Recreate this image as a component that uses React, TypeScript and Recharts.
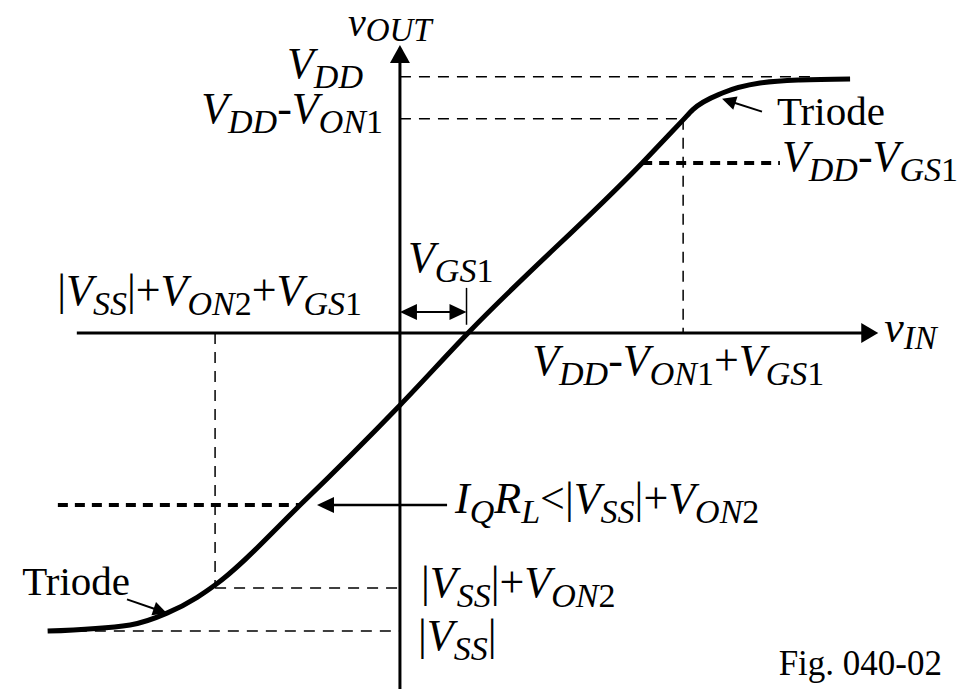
import React from "react";
import {
  ComposedChart,
  Line,
  XAxis,
  YAxis,
  ReferenceLine,
  ReferenceDot,
} from "recharts";

// transfer curve, in volt-like units with (0,0) at the axis crossing
const vinPoints = [-6.88, -5.27, -4.55, -3.96, -3.61, -1.95, 0, 1.33, 4.73, 5.53, 5.72, 6.31, 7.03, 7.81, 8.79];
const voutPoints = [-5.82, -5.7, -5.47, -5.16, -4.92, -3.36, -1.41, 0, 3.32, 4.16, 4.36, 4.69, 4.88, 4.94, 4.96];

// levels marked on the vOUT axis
const VDD = 5.0;
const VDD_VON1 = 4.18;
const VDD_VGS1 = 3.32;
const IQRL = -3.36;
const VSS_VON2 = -4.98;
const VSS = -5.82;

// points marked on the vIN axis
const VGS1 = 1.3;
const KNEE_HI = 5.53;
const KNEE_LO = -3.61;

const X_DOMAIN = [-7.81, 11.21];
const Y_DOMAIN = [-6.97, 6.5];

const curveData = vinPoints.map((vin, i) => ({ vin, vout: voutPoints[i] }));

const FONT = '"Liberation Serif", "Times New Roman", Times, serif';

type Run = { t: string; sub: boolean; it: boolean };

// "V_{DD}-V_{ON1}" -> runs of main / subscript text, letters italic
function parse(src: string, italic: boolean): Run[] {
  const runs: Run[] = [];
  const push = (ch: string, sub: boolean) => {
    const it = italic && /[A-Za-z]/.test(ch);
    const last = runs[runs.length - 1];
    if (last && last.sub === sub && last.it === it) last.t += ch;
    else runs.push({ t: ch, sub, it });
  };
  let i = 0;
  while (i < src.length) {
    if (src[i] === "_" && src[i + 1] === "{") {
      const end = src.indexOf("}", i);
      for (const ch of src.slice(i + 2, end)) push(ch, true);
      i = end + 1;
    } else {
      push(src[i], false);
      i++;
    }
  }
  return runs;
}

function MathText({ x, y, tex, anchor = "start", size = 44, subSize = 34, shift = 10, italic = true }: any) {
  const runs = parse(tex, italic);
  let cur = 0;
  return (
    <text x={x} y={y} textAnchor={anchor} fontFamily={FONT} fill="#000">
      {runs.map((r, k) => {
        const target = r.sub ? shift : 0;
        const dy = target - cur;
        cur = target;
        return (
          <tspan key={k} dy={dy} fontSize={r.sub ? subSize : size} fontStyle={r.it ? "italic" : "normal"}>
            {r.t}
          </tspan>
        );
      })}
    </text>
  );
}

function arrow(head: number, half: number, both = false) {
  return (p: any) => {
    const { x1, y1, x2, y2 } = p;
    const len = Math.hypot(x2 - x1, y2 - y1) || 1;
    const ux = (x2 - x1) / len;
    const uy = (y2 - y1) / len;
    const tri = (tx: number, ty: number, sx: number, sy: number) => {
      const bx = tx - sx * head;
      const by = ty - sy * head;
      return `${tx},${ty} ${bx - sy * half},${by + sx * half} ${bx + sy * half},${by - sx * half}`;
    };
    const cut = head * 0.8;
    return (
      <g>
        <line
          x1={both ? x1 + ux * cut : x1}
          y1={both ? y1 + uy * cut : y1}
          x2={x2 - ux * cut}
          y2={y2 - uy * cut}
          stroke="#000"
          strokeWidth={p.strokeWidth}
        />
        <polygon points={tri(x2, y2, ux, uy)} fill="#000" />
        {both && <polygon points={tri(x1, y1, -ux, -uy)} fill="#000" />}
      </g>
    );
  };
}

const tag = (key: string, x: number, y: number, dx: number, dy: number, tex: string, opts: any = {}) => (
  <ReferenceDot
    key={key}
    x={x}
    y={y}
    r={0}
    ifOverflow="visible"
    isFront
    shape={(p: any) => <MathText x={p.cx + dx} y={p.cy + dy} tex={tex} {...opts} />}
  />
);

const thin = { stroke: "#000", strokeWidth: 1.5, strokeDasharray: "11 8", ifOverflow: "visible" as const };
const thick = { stroke: "#000", strokeWidth: 4, strokeDasharray: "10 7", ifOverflow: "visible" as const };

export default function App() {
  return (
    <div style={{ position: "absolute", left: 0, top: 0, width: 974, height: 690, background: "#fff" }}>
      <ComposedChart width={974} height={690} data={curveData} margin={{ top: 0, right: 0, bottom: 0, left: 0 }}>
        <XAxis dataKey="vin" type="number" domain={X_DOMAIN} hide allowDataOverflow />
        <YAxis type="number" domain={Y_DOMAIN} hide allowDataOverflow />

        {/* guide lines */}
        <ReferenceLine segment={[{ x: 0, y: VDD }, { x: 8.14, y: VDD }]} {...thin} />
        <ReferenceLine segment={[{ x: 0, y: VDD_VON1 }, { x: KNEE_HI, y: VDD_VON1 }]} {...thin} />
        <ReferenceLine segment={[{ x: KNEE_HI, y: VDD_VON1 }, { x: KNEE_HI, y: 0 }]} {...thin} />
        <ReferenceLine segment={[{ x: KNEE_LO, y: 0 }, { x: KNEE_LO, y: VSS_VON2 }]} {...thin} />
        <ReferenceLine segment={[{ x: KNEE_LO, y: VSS_VON2 }, { x: 0, y: VSS_VON2 }]} {...thin} />
        <ReferenceLine segment={[{ x: -6.7, y: VSS }, { x: 0, y: VSS }]} {...thin} />
        <ReferenceLine segment={[{ x: 4.73, y: VDD_VGS1 }, { x: 7.42, y: VDD_VGS1 }]} {...thick} />
        <ReferenceLine segment={[{ x: -6.68, y: IQRL }, { x: -1.95, y: IQRL }]} {...thick} />

        {/* axes */}
        <ReferenceLine segment={[{ x: 0, y: -6.95 }, { x: 0, y: 5.62 }]} stroke="#000" strokeWidth={3} ifOverflow="visible" shape={arrow(18, 10)} />
        <ReferenceLine segment={[{ x: -6.31, y: 0 }, { x: 9.34, y: 0 }]} stroke="#000" strokeWidth={3} ifOverflow="visible" shape={arrow(17, 10)} />

        {/* VGS1 span */}
        <ReferenceLine segment={[{ x: 0, y: 0.41 }, { x: VGS1, y: 0.41 }]} stroke="#000" strokeWidth={2} ifOverflow="visible" shape={arrow(17, 8, true)} />
        <ReferenceLine segment={[{ x: VGS1, y: 0.88 }, { x: VGS1, y: 0.16 }]} stroke="#000" strokeWidth={1.5} ifOverflow="visible" />

        {/* pointers */}
        <ReferenceLine segment={[{ x: 0.92, y: IQRL }, { x: -1.62, y: IQRL }]} stroke="#000" strokeWidth={2.5} ifOverflow="visible" shape={arrow(17, 8)} />
        <ReferenceLine segment={[{ x: 7.07, y: 4.32 }, { x: 6.29, y: 4.57 }]} stroke="#000" strokeWidth={2} ifOverflow="visible" shape={arrow(14, 7)} />
        <ReferenceLine segment={[{ x: -5.33, y: -5.2 }, { x: -4.55, y: -5.47 }]} stroke="#000" strokeWidth={2} ifOverflow="visible" shape={arrow(14, 7)} />

        <Line
          dataKey="vout"
          type="monotone"
          stroke="#000"
          strokeWidth={5}
          dot={false}
          activeDot={false}
          isAnimationActive={false}
        />

        {/* labels */}
        {tag("vout", 0, 5.62, -52, -9, "v_{OUT}", { size: 40, subSize: 33, shift: 5 })}
        {tag("vdd", 0, VDD, -37, 1, "V_{DD}", { anchor: "end" })}
        {tag("vddvon", 0, VDD_VON1, -17, 4, "V_{DD}-V_{ON1}", { anchor: "end" })}
        {tag("vgs", 0, 0.41, 8, -40, "V_{GS1}")}
        {tag("vssvonvgs", 0, 0, -38, -28, "|V_{SS}|+V_{ON2}+V_{GS1}", { anchor: "end" })}
        {tag("tri1", 7.07, 4.32, 15, 13, "Triode", { italic: false, size: 41 })}
        {tag("vddvgs", 7.42, VDD_VGS1, 2, 8, "V_{DD}-V_{GS1}")}
        {tag("vin", 9.34, 0, 6, 9, "v_{IN}", { size: 44, subSize: 33, shift: 7 })}
        {tag("vddvonvgs", KNEE_HI, 0, -151, 42, "V_{DD}-V_{ON1}+V_{GS1}")}
        {tag("iqrl", 0.92, IQRL, 8, 8, "I_{Q}R_{L}<|V_{SS}|+V_{ON2}")}
        {tag("vssvon", 0, VSS_VON2, 21, 9, "|V_{SS}|+V_{ON2}")}
        {tag("vss", 0, VSS, 18, 19, "|V_{SS}|")}
        {tag("tri2", -5.33, -5.2, 3, -4, "Triode", { italic: false, size: 41, anchor: "end" })}
        {tag("fig", X_DOMAIN[1], Y_DOMAIN[0], -32, -15, "Fig. 040-02", { italic: false, size: 35, anchor: "end" })}
      </ComposedChart>
    </div>
  );
}
